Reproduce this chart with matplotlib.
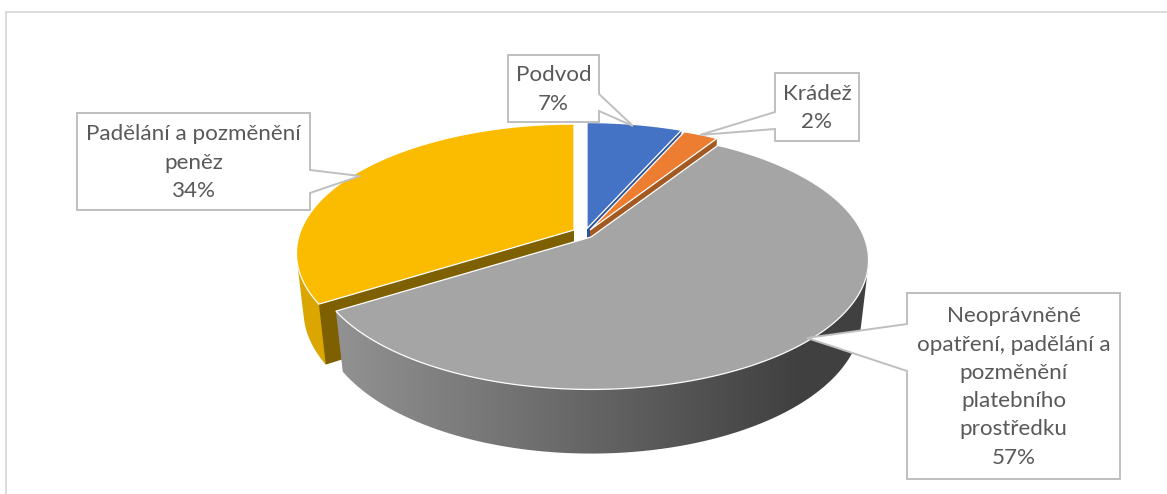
import numpy as np
import matplotlib
matplotlib.use("Agg")
import matplotlib.pyplot as plt
from matplotlib.patches import Polygon
from matplotlib.colors import LinearSegmentedColormap

categories = ["Podvod", "Krádež",
              "Neoprávněné\nopatření, padělání a\npozměnění\nplatebního\nprostředku",
              "Padělání a pozměnění\npeněz"]
shares = [6.6, 2.4, 57.0, 34.0]
percent_labels = ["7%", "2%", "57%", "34%"]

top_colors = ["#4472c4", "#ed7d31", "#a5a5a5", "#fbbc00"]
inner_colors = ["#2f5597", "#a35a22", None, "#7f6000"]
side_colors = ["#3a62aa", "#c96a28", None, "#dca600"]
apex_x = [587, 590, 591, 574]
apex_y = [228.5, 230, 237, 230]

RX, RY, KY, KZ, DEPTH = 273.0, 125.0, 0.18, 0.025, 58.0

fig = plt.figure(figsize=(11.67, 4.94), dpi=100)
ax = fig.add_axes([0, 0, 1, 1])
ax.axis("off")


def project(i, X, Y, Z):
    w = 1 + KY * Y + KZ * Z
    return apex_x[i] + RX * X / w, apex_y[i] + (-RY * Y + DEPTH * Z) / w


vals = np.array(shares, dtype=float)
ends = np.cumsum(vals) / vals.sum() * 2 * np.pi
starts = ends - vals / vals.sum() * 2 * np.pi
RAMP_X0, RAMP_X1 = 330, 880
grey_ramp = LinearSegmentedColormap.from_list(
    "wall", [(0, "#939393"), ((800 - RAMP_X0) / (RAMP_X1 - RAMP_X0), "#404040"), (1, "#404040")])


def hull(points):
    """Convex outline of the swept wall (the top face hides what lies above the rim)."""
    pts = sorted(map(tuple, points))

    def half(seq):
        out = []
        for p in seq:
            while len(out) > 1 and ((out[-1][0] - out[-2][0]) * (p[1] - out[-2][1])
                                    - (out[-1][1] - out[-2][1]) * (p[0] - out[-2][0])) <= 0:
                out.pop()
            out.append(p)
        return out[:-1]

    return np.array(half(pts) + half(pts[::-1]))


def draw_slice(i, z):
    t = np.linspace(starts[i], ends[i], 240)
    X, Y = np.sin(t), np.cos(t)
    # outer wall
    keep = Y < 0.45
    if keep.sum() > 1:
        tx, ty = project(i, X[keep], Y[keep], 0)
        bx, by = project(i, X[keep], Y[keep], 1)
        outline = hull(np.r_[np.c_[tx, ty], np.c_[bx, by]])
        if side_colors[i] is None:
            grad = np.linspace(0, 1, 256)[None, :]
            im = ax.imshow(grad, extent=(RAMP_X0, RAMP_X1, 494, 0), cmap=grey_ramp, aspect="auto",
                           zorder=z, interpolation="bilinear")
            im.set_clip_path(Polygon(outline, closed=True, transform=ax.transData))
        else:
            ax.add_patch(Polygon(outline, closed=True, fc=side_colors[i], ec="none", zorder=z))
    # flat cut faces, where the slice shows them
    if inner_colors[i] is not None:
        for a in (starts[i], ends[i]):
            ex, ey = np.sin(a), np.cos(a)
            pts = [project(i, 0, 0, 0), project(i, ex, ey, 0),
                   project(i, ex, ey, 1), project(i, 0, 0, 1)]
            ax.add_patch(Polygon(pts, closed=True, fc=inner_colors[i], ec="none", zorder=z + 0.1))
    # top face
    px, py = project(i, np.r_[0, X], np.r_[0, Y], 0)
    ax.add_patch(Polygon(np.c_[px, py], closed=True, fc=top_colors[i], ec="white", lw=0.9,
                         zorder=z + 0.2))


# back to front: the big grey slice goes over the others
for z, i in enumerate((3, 0, 1, 2)):
    draw_slice(i, 2 + z)

ax.set_xlim(0, 1167)
ax.set_ylim(494, 0)

# chart frame: only top and left edges are inside the crop
ax.plot([6, 1167], [12, 12], color="#d9d9d9", lw=1.3, zorder=1)
ax.plot([6, 6], [12, 494], color="#d9d9d9", lw=1.3, zorder=1)


def callout(box, stem_a, tip, stem_b, text):
    x0, y0, x1, y1 = box
    if stem_a[0] == x1:
        pts = [(x0, y0), (x1, y0), stem_a, tip, stem_b, (x1, y1), (x0, y1)]
    else:
        pts = [(x0, y0), (x1, y0), (x1, y1), (x0, y1), stem_b, tip, stem_a]
    ax.add_patch(Polygon(pts, closed=True, fc="white", ec="#bfbfbf", lw=1.4, zorder=10))
    ax.text((x0 + x1) / 2, (y0 + y1) / 2 + 1, text, ha="center", va="center", color="#595959",
            fontsize=16.1, family="Lato", linespacing=1.52, zorder=11)


labels = [f"{c}\n{p}" for c, p in zip(categories, percent_labels)]
callout((508, 55, 599, 122), (599, 94), (633, 126), (599, 111), labels[0])
callout((775, 73, 859, 141), (775, 112), (700, 135), (775, 129), labels[1])
callout((907, 293, 1120, 479), (907, 324), (807, 338), (907, 371), labels[2])
callout((77, 113, 310, 210), (310, 170), (360, 176), (310, 193), labels[3])

fig.savefig("out.png", dpi=100)
